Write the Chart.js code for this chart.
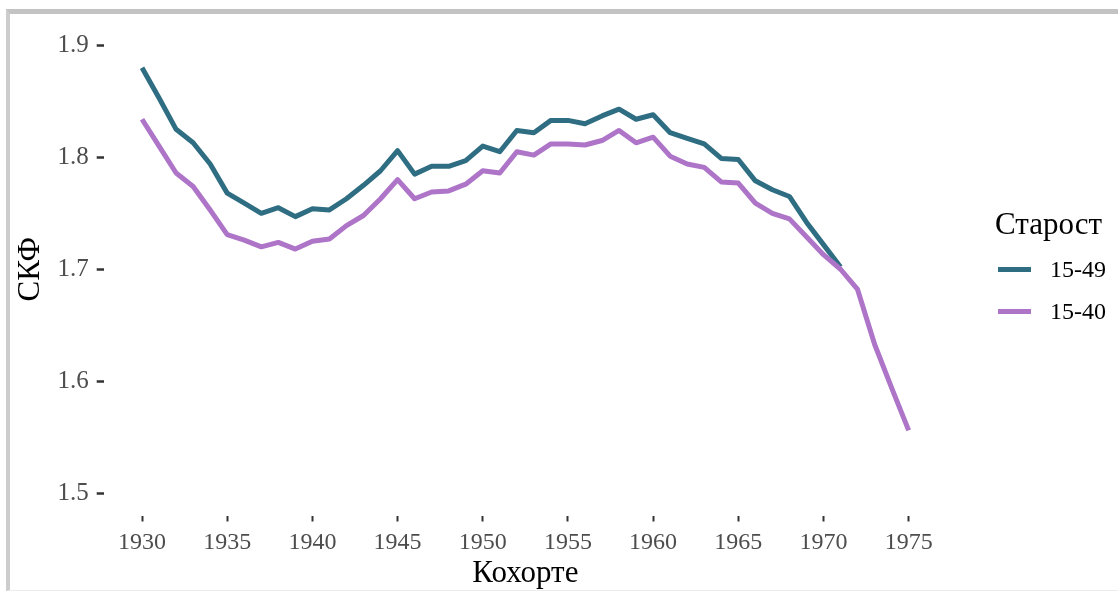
<!DOCTYPE html>
<html>
<head>
<meta charset="utf-8">
<script src="https://cdn.jsdelivr.net/npm/chart.js@4"></script>
<style>
  html, body { margin: 0; padding: 0; background: #fff; }
  #wrap { position: relative; width: 1118px; height: 592px; overflow: hidden; }
  #frame {
    position: absolute; left: 6px; top: 9px; right: -20px; bottom: 1px;
    border-top: 5px solid #c3c3c3; border-left: 4px solid #cdcdcd; border-bottom: 1px solid #ececec;
    pointer-events: none;
  }
  #legend {
    position: absolute; left: 995px; top: 206px;
    font-family: "Liberation Serif", serif; color: #000;
  }
  #legend .title { font-size: 31px; line-height: 36px; margin-bottom: 6px; }
  #legend .item { display: flex; align-items: center; height: 42px; font-size: 24px; }
  #legend .swatch { width: 33px; height: 5px; margin-left: 3px; margin-right: 19px; }
</style>
</head>
<body>
<div id="wrap">
  <canvas id="chart" width="1118" height="592"></canvas>
  <div id="frame"></div>
  <div id="legend"></div>
</div>
<script>
const years = [1930, 1931, 1932, 1933, 1934, 1935, 1936, 1937, 1938, 1939,
  1940, 1941, 1942, 1943, 1944, 1945, 1946, 1947, 1948, 1949,
  1950, 1951, 1952, 1953, 1954, 1955, 1956, 1957, 1958, 1959,
  1960, 1961, 1962, 1963, 1964, 1965, 1966, 1967, 1968, 1969,
  1970, 1971, 1972, 1973, 1974, 1975];

// 15-49 ends in 1971
const tfr1549 = [1.880, 1.853, 1.825, 1.813, 1.794, 1.768, 1.759, 1.750, 1.755, 1.747,
  1.754, 1.753, 1.763, 1.775, 1.788, 1.806, 1.785, 1.792, 1.792, 1.797,
  1.810, 1.805, 1.824, 1.822, 1.833, 1.833, 1.830, 1.837, 1.843, 1.834,
  1.838, 1.822, 1.817, 1.812, 1.799, 1.798, 1.779, 1.771, 1.765, 1.742,
  1.722, 1.702];

const tfr1540 = [1.834, 1.810, 1.786, 1.774, 1.753, 1.731, 1.726, 1.720, 1.724, 1.718,
  1.725, 1.727, 1.739, 1.748, 1.763, 1.780, 1.763, 1.769, 1.770, 1.776,
  1.788, 1.786, 1.805, 1.802, 1.812, 1.812, 1.811, 1.815, 1.824, 1.813,
  1.818, 1.801, 1.794, 1.791, 1.778, 1.777, 1.759, 1.750, 1.745, 1.729,
  1.713, 1.700, 1.682, 1.633, 1.594, 1.556];

const seriesNames = ['15-49', '15-40'];
const seriesColors = ['#2f6e82', '#ad74c8'];
const xTicks = [1930, 1935, 1940, 1945, 1950, 1955, 1960, 1965, 1970, 1975];
const yTicks = [1.5, 1.6, 1.7, 1.8, 1.9];

const font = 'Liberation Serif';

function toPoints(values) {
  return values.map((v, i) => ({ x: years[i], y: v }));
}

const chart = new Chart(document.getElementById('chart'), {
  type: 'line',
  data: {
    datasets: [
      {
        label: seriesNames[0],
        data: toPoints(tfr1549),
        borderColor: seriesColors[0],
        backgroundColor: seriesColors[0],
        order: 1
      },
      {
        label: seriesNames[1],
        data: toPoints(tfr1540),
        borderColor: seriesColors[1],
        backgroundColor: seriesColors[1],
        order: 0
      }
    ]
  },
  options: {
    responsive: false,
    animation: false,
    events: [],
    layout: { padding: { top: 19.5, right: 171, left: 0, bottom: 0 } },
    elements: {
      point: { radius: 0 },
      line: { borderWidth: 5, tension: 0, borderJoinStyle: 'round', borderCapStyle: 'butt' }
    },
    plugins: {
      legend: { display: false },
      tooltip: { enabled: false }
    },
    scales: {
      x: {
        type: 'linear',
        min: 1927.75,
        max: 1977.25,
        afterFit: function (scale) { scale.height = 76.5; },
        afterBuildTicks: function (scale) { scale.ticks = xTicks.map(v => ({ value: v })); },
        border: { display: false },
        grid: { drawOnChartArea: false, drawTicks: true, tickLength: 6, tickColor: '#333', tickWidth: 2 },
        ticks: {
          padding: 7,
          maxRotation: 0,
          autoSkip: false,
          color: '#4d4d4d',
          font: { family: font, size: 24 },
          callback: v => String(v)
        },
        title: {
          display: true,
          text: 'Кохорте',
          color: '#000',
          font: { family: font, size: 31 },
          padding: { top: 0, bottom: 0 }
        }
      },
      y: {
        min: 1.48,
        max: 1.92,
        afterFit: function (scale) { scale.width = 103.7; },
        afterBuildTicks: function (scale) { scale.ticks = yTicks.map(v => ({ value: v })); },
        border: { display: false },
        grid: { drawOnChartArea: false, drawTicks: true, tickLength: 7, tickColor: '#333', tickWidth: 2.5 },
        ticks: {
          padding: 8,
          color: '#4d4d4d',
          font: { family: font, size: 25 },
          callback: v => String(v)
        },
        title: {
          display: true,
          text: 'СКФ',
          color: '#000',
          font: { family: font, size: 31 },
          padding: { top: 12, bottom: 0 }
        }
      }
    }
  }
});

// legend built from the chart's own datasets
const legendEl = document.getElementById('legend');
const titleEl = document.createElement('div');
titleEl.className = 'title';
titleEl.textContent = 'Старост';
legendEl.appendChild(titleEl);
chart.data.datasets.forEach(ds => {
  const item = document.createElement('div');
  item.className = 'item';
  const sw = document.createElement('span');
  sw.className = 'swatch';
  sw.style.background = ds.borderColor;
  const label = document.createElement('span');
  label.textContent = ds.label;
  item.appendChild(sw);
  item.appendChild(label);
  legendEl.appendChild(item);
});
</script>
</body>
</html>
